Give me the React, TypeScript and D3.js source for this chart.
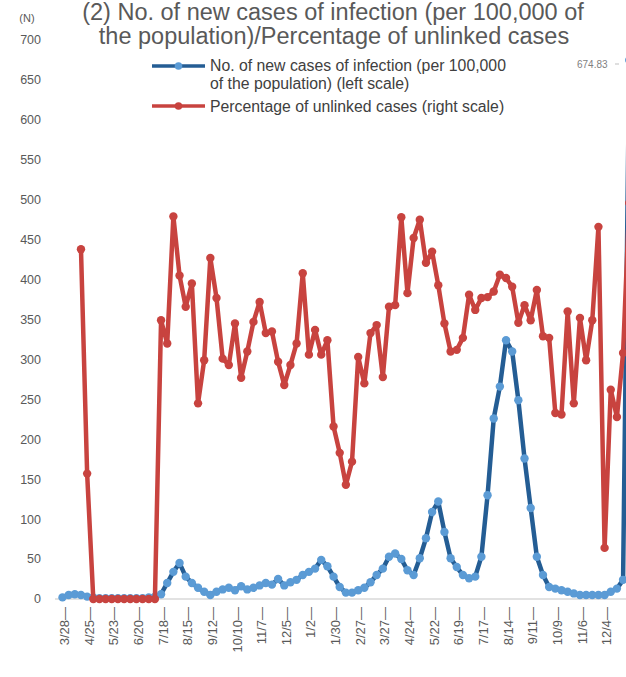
import React from "react";
import * as d3 from "d3";

// Weekly series starting 3/28 (week 0)
const newCases: number[] = [
  2, 5, 6, 5, 3, 2, 1, 1, 1, 1, 1, 1, 1, 1, 2, 3,
  6, 20, 34, 45, 28, 20, 14, 9, 5, 9, 12, 14, 11, 16,
  12, 14, 17, 20, 18, 25, 17, 21, 24, 30, 34, 38, 49, 41,
  28, 15, 8, 8, 11, 14, 21, 30, 38, 53, 57, 50, 36, 30,
  51, 76, 109, 122, 84, 51, 40, 30, 26, 28, 53, 130, 226, 266,
  324, 310, 249, 176, 114, 53, 30, 15, 13, 11, 9, 7, 5, 5,
  5, 5, 5, 9, 13, 24, 674.83,
];

const unlinked: (number | null)[] = [
  null, null, null, 438, 157, 0, 0, 0, 0, 0, 0, 0, 0, 0, 0, 0,
  349, 320, 479, 405, 366, 395, 245, 299, 427, 377, 301, 293, 345, 277,
  310, 347, 372, 333, 335, 297, 268, 293, 320, 408, 306, 337, 306, 324,
  216, 183, 143, 172, 303, 270, 333, 343, 278, 366, 368, 478, 383, 452,
  475, 421, 435, 393, 345, 310, 312, 327, 381, 362, 377, 378, 385, 406,
  402, 391, 346, 368, 349, 387, 329, 327, 233, 231, 360, 245, 352, 299,
  349, 466, 64, 262, 228, 308, 496,
];

const tickLabels: string[] = [
  "3/28", "4/25", "5/23", "6/20", "7/18", "8/15", "9/12", "10/10", "11/7", "12/5",
  "1/2", "1/30", "2/27", "3/27", "4/24", "5/22", "6/19", "7/17", "8/14", "9/11",
  "10/9", "11/6", "12/4",
];

const yTicks: number[] = [0, 50, 100, 150, 200, 250, 300, 350, 400, 450, 500, 550, 600, 650, 700];

const peakLabel = "674.83";

const W = 626;
const H = 677;

export default function App() {
  const x = d3.scaleLinear().domain([0, 88]).range([62.5, 604.6]);
  const y = d3.scaleLinear().domain([0, 700]).range([599, 40]);

  const blueLine = d3
    .line<number>()
    .x((_, i) => x(i))
    .y((d) => y(d));
  const redLine = d3
    .line<number | null>()
    .defined((d) => d != null)
    .x((_, i) => x(i))
    .y((d) => y(d as number));

  const axisColor = "#595959";
  const blueDark = "#245d94";
  const blueLight = "#5b9bd5";
  const red = "#c8433f";
  const font = "'Liberation Sans', Arial, sans-serif";
  const lw = 4.5;
  const mr = 4.2;

  return (
    <svg
      width={W}
      height={H}
      style={{ position: "absolute", left: 0, top: 0, background: "#fff" }}
      fontFamily={font}
    >
      <rect x={0} y={0} width={W} height={H} fill="#fff" />
      {/* Title */}
      <text x={333} y={20} textAnchor="middle" fontSize={23.5} fill={axisColor}>
        (2) No. of new cases of infection (per 100,000 of
      </text>
      <text x={334} y={44} textAnchor="middle" fontSize={23.5} fill={axisColor}>
        the population)/Percentage of unlinked cases
      </text>
      <text x={27} y={22} textAnchor="middle" fontSize={11} fill={axisColor}>
        (N)
      </text>

      {/* Y axis labels */}
      {yTicks.map((t) => (
        <text key={t} x={41} y={y(t)} dy="0.35em" textAnchor="end" fontSize={12.5} fill={axisColor}>
          {t}
        </text>
      ))}

      {/* baseline */}
      <line x1={55} x2={W} y1={y(0)} y2={y(0)} stroke="#d9d9d9" strokeWidth={1.5} />

      {/* X axis labels */}
      {tickLabels.map((l, i) => (
        <text
          key={l + i}
          transform={`translate(${x(i * 4) + 2},${607}) rotate(-90)`}
          dy="0.35em"
          textAnchor="end"
          fontSize={13}
          fill={axisColor}
        >
          {l + "—"}
        </text>
      ))}

      {/* Blue series */}
      <path d={blueLine(newCases) || ""} fill="none" stroke={blueDark} strokeWidth={lw} strokeLinejoin="round" />
      {newCases.map((v, i) => (
        <circle key={"b" + i} cx={x(i)} cy={y(v)} r={mr} fill={blueLight} />
      ))}

      {/* Red series */}
      <path d={redLine(unlinked) || ""} fill="none" stroke={red} strokeWidth={lw} strokeLinejoin="round" />
      {unlinked.map((v, i) =>
        v == null ? null : <circle key={"r" + i} cx={x(i)} cy={y(v)} r={mr} fill={red} />
      )}

      {/* Peak data label */}
      <text x={577} y={64} dy="0.35em" fontSize={10} fill="#7f7f7f">
        {peakLabel}
      </text>
      <line x1={615} x2={619} y1={64} y2={64} stroke="#bfbfbf" strokeWidth={1} />

      {/* Legend */}
      <line x1={152} x2={205} y1={66} y2={66} stroke={blueDark} strokeWidth={3.5} />
      <circle cx={178.5} cy={66} r={3.8} fill={blueLight} />
      <text x={210} y={65} dy="0.35em" fontSize={15.8} fill="#404040">
        No. of new cases of infection (per 100,000
      </text>
      <text x={210} y={83} dy="0.35em" fontSize={15.8} fill="#404040">
        of the population) (left scale)
      </text>
      <line x1={152} x2={205} y1={106} y2={106} stroke={red} strokeWidth={3.5} />
      <circle cx={178.5} cy={106} r={3.8} fill={red} />
      <text x={210} y={106} dy="0.35em" fontSize={15.8} fill="#404040">
        Percentage of unlinked cases (right scale)
      </text>
    </svg>
  );
}
